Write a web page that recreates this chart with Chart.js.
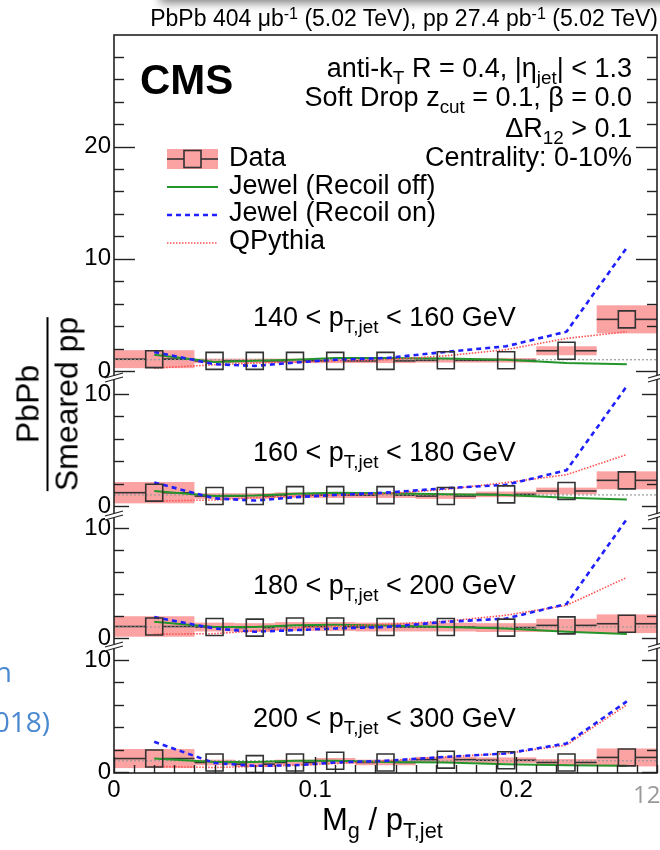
<!DOCTYPE html>
<html>
<head>
<meta charset="utf-8">
<script src="https://cdn.jsdelivr.net/npm/chart.js@4.4.1/dist/chart.umd.min.js"></script>
<style>
html, body { margin: 0; padding: 0; background: #fff; }
#wrap { position: relative; width: 660px; height: 850px; overflow: hidden; font-family: "Liberation Sans", Arial, sans-serif; color: #000; }
#wrap canvas { position: absolute; left: 0; top: 0; }
.t { position: absolute; white-space: nowrap; line-height: 1; }
.sb { position: relative; top: 0.35em; font-size: 0.7em; }
.sp { position: relative; top: -0.45em; font-size: 0.7em; }
.slide { font-family: "Open Sans", sans-serif; }
</style>
</head>
<body>
<div id="wrap">
  <canvas id="c" width="660" height="850"></canvas>
  <div style="position:absolute;left:160px;top:-20px;width:530px;height:20px;box-shadow:0 3px 10px rgba(0,0,0,0.5);background:#ccc"></div>

  <div class="t" style="right:2px;top:7px;font-size:23px">PbPb 404 &mu;b<span class="sp">-1</span> (5.02 TeV), pp 27.4 pb<span class="sp">-1</span> (5.02 TeV)</div>
  <div class="t" style="left:140px;top:59px;font-size:42px;font-weight:bold">CMS</div>

  <div class="t" style="right:28px;top:55px;font-size:27px">anti-k<span class="sb">T</span> R = 0.4, |&eta;<span class="sb">jet</span>| &lt; 1.3</div>
  <div class="t" style="right:28px;top:84px;font-size:27px">Soft Drop z<span class="sb">cut</span> = 0.1, &beta; = 0.0</div>
  <div class="t" style="right:28px;top:115px;font-size:27px">&Delta;R<span class="sb">12</span> &gt; 0.1</div>
  <div class="t" style="right:28px;top:144px;font-size:27px">Centrality: 0-10%</div>

  <div class="t" style="left:229px;top:144px;font-size:27px">Data</div>
  <div class="t" style="left:229px;top:172px;font-size:27px">Jewel (Recoil off)</div>
  <div class="t" style="left:229px;top:199px;font-size:27px">Jewel (Recoil on)</div>
  <div class="t" style="left:229px;top:227px;font-size:27px">QPythia</div>

  <div class="t" style="left:322px;top:804px;font-size:31px">M<span class="sb">g</span> / p<span class="sb">T,jet</span></div>

  <div style="position:absolute;left:47px;top:404px;transform:translate(-50%,-50%) rotate(-90deg);font-size:32px;text-align:center;line-height:1;white-space:nowrap">
    <div>PbPb</div>
    <div style="border-top:2px solid #000;margin-top:3px;padding-top:2px">Smeared pp</div>
  </div>

  <div class="t slide" style="right:648px;top:657px;font-size:28px;color:#4a88d0">n</div>
  <div class="t slide" style="right:610px;top:707px;font-size:28px;color:#4a88d0">(2018)</div>
  <div class="t slide" style="left:633px;top:782px;font-size:24px;color:#9a9a9a">12</div>
</div>

<script>
// binning in Mg/pT,jet
const binEdges = [0, 0.04, 0.06, 0.08, 0.10, 0.12, 0.15, 0.18, 0.21, 0.24, 0.27];
const binCenters = [0.02, 0.05, 0.07, 0.09, 0.11, 0.135, 0.165, 0.195, 0.225, 0.255];
const ptEdges = [140, 160, 180, 200, 300];
const xTicks = [0, 0.1, 0.2];
const yTicks = [[0, 10, 20], [0, 10], [0, 10], [0, 10]];

// one row per pT bin (140-160, 160-180, 180-200, 200-300)
const dataRatio = [
    [1.05, 0.9, 0.9, 0.9, 0.9, 0.9, 0.95, 0.95, 1.8, 4.6],
    [1.2, 0.9, 0.9, 0.98, 0.98, 0.98, 0.9, 1.05, 1.35, 2.3],
    [1.05, 1.0, 0.95, 1.05, 1.05, 1.0, 1.0, 0.95, 1.15, 1.3],
    [1.2, 0.85, 0.7, 0.85, 1.0, 0.85, 1.1, 1.05, 0.85, 1.3]
];
const sysErr = [
    [0.8, 0.2, 0.2, 0.2, 0.2, 0.2, 0.2, 0.2, 0.4, 1.25],
    [0.95, 0.25, 0.25, 0.25, 0.25, 0.25, 0.25, 0.25, 0.3, 0.8],
    [0.93, 0.4, 0.4, 0.4, 0.4, 0.4, 0.4, 0.4, 0.6, 0.85],
    [0.85, 0.25, 0.25, 0.25, 0.25, 0.25, 0.25, 0.25, 0.3, 0.8]
];
const jewelOff = [
    [1.45, 0.8, 0.9, 1.0, 1.15, 1.15, 1.1, 1.0, 0.7, 0.6],
    [1.35, 0.9, 0.95, 1.1, 1.2, 1.15, 1.05, 1.0, 0.75, 0.6],
    [1.47, 1.0, 1.0, 1.17, 1.2, 1.14, 1.0, 0.87, 0.57, 0.36],
    [1.2, 0.9, 0.9, 1.0, 1.0, 0.9, 0.85, 0.7, 0.6, 0.55]
];
const jewelOn = [
    [1.7, 0.6, 0.45, 0.75, 1.0, 1.15, 1.7, 2.2, 3.5, 11.0],
    [2.1, 0.7, 0.5, 0.8, 1.0, 1.2, 1.6, 1.9, 3.2, 10.7],
    [1.9, 0.87, 0.57, 0.72, 0.87, 1.0, 1.47, 1.77, 3.1, 10.8],
    [2.7, 0.8, 0.55, 0.6, 0.85, 1.0, 1.35, 1.65, 2.55, 6.3]
];
const qpythia = [
    [0.25, 0.55, 0.7, 0.8, 0.9, 1.0, 1.35, 1.9, 2.9, 3.5],
    [0.45, 0.55, 0.75, 0.9, 1.0, 1.1, 1.5, 2.1, 2.8, 4.6],
    [0.35, 0.4, 0.65, 0.95, 1.08, 1.23, 1.53, 2.07, 2.97, 5.5],
    [0.5, 0.4, 0.5, 0.6, 0.75, 1.0, 1.35, 1.65, 2.4, 6.0]
];

const FONT = '"Liberation Sans", Arial, sans-serif';
const SYS_COLOR = 'rgba(248,105,105,0.62)';
const panelIds = ['y0', 'y1', 'y2', 'y3'];
const panelRange = [[-0.45, 29.95], [-0.7, 11.6], [-0.63, 11.26], [-0.09, 11.34]];
const panelWeight = [341, 138, 131, 128];

const styles = {
    off: { color: '#23952b', width: 2, dash: [] },
    on: { color: '#2020ff', width: 2.6, dash: [5, 4] },
    qp: { color: '#ff5050', width: 1.6, dash: [1.5, 1.5] }
};

function pts(vals) {
    return binCenters.map((x, i) => ({ x: x, y: vals[i] }));
}

function modelLine(label, vals, axis, st) {
    return {
        label: label, data: pts(vals), yAxisID: axis,
        borderColor: st.color, borderWidth: st.width, borderDash: st.dash,
        pointRadius: 0, tension: 0, fill: false
    };
}

const datasets = [];
// data markers first so they end up on top
panelIds.forEach((id, p) => {
    datasets.push({
        label: 'Data', data: pts(dataRatio[p]), yAxisID: id, showLine: false,
        pointStyle: 'rect', pointRadius: 12, pointBorderWidth: 1.6,
        pointBorderColor: '#333', pointBackgroundColor: 'rgba(0,0,0,0)'
    });
});
panelIds.forEach((id, p) => {
    datasets.push(modelLine('Jewel (Recoil on)', jewelOn[p], id, styles.on));
    datasets.push(modelLine('QPythia', qpythia[p], id, styles.qp));
    datasets.push(modelLine('Jewel (Recoil off)', jewelOff[p], id, styles.off));
    // reference line at ratio = 1
    datasets.push({
        label: 'unity', data: [{ x: binEdges[0], y: 1 }, { x: binEdges[binEdges.length - 1], y: 1 }],
        yAxisID: id, borderColor: '#9a9a9a', borderWidth: 1.2, borderDash: [2, 2], pointRadius: 0
    });
});

const scales = {
    x: {
        type: 'linear', position: 'bottom',
        min: binEdges[0], max: binEdges[binEdges.length - 1],
        afterFit: s => { s.height = 77; s.paddingLeft = 0; s.paddingRight = 0; },
        afterBuildTicks: s => { s.ticks = xTicks.map(v => ({ value: v })); },
        grid: { display: false, drawTicks: false }, border: { display: false },
        ticks: {
            font: { family: FONT, size: 24 }, color: '#000', padding: 3, maxRotation: 0,
            callback: v => (v === 0 ? '0' : v.toFixed(1))
        }
    }
};
panelIds.forEach((id, p) => {
    scales[id] = {
        type: 'linear', position: 'left', stack: 'panels',
        stackWeight: panelWeight[p], weight: 4 - p,
        min: panelRange[p][0], max: panelRange[p][1],
        afterFit: s => { s.width = 114; s.paddingTop = 0; s.paddingBottom = 0; },
        afterBuildTicks: s => { s.ticks = yTicks[p].map(v => ({ value: v })); },
        grid: { display: false, drawTicks: false }, border: { display: false },
        ticks: { font: { family: FONT, size: 24 }, color: '#000', padding: 3, autoSkip: false }
    };
});

function seg(ctx, x0, y0, x1, y1) {
    ctx.beginPath();
    ctx.moveTo(x0, y0);
    ctx.lineTo(x1, y1);
    ctx.stroke();
}

// ROOT-like decorations: systematic boxes, bin-width bars, frame, inward ticks, axis breaks, legend keys
const rootStyle = {
    id: 'rootStyle',
    beforeDatasetsDraw(chart) {
        const ctx = chart.ctx, xs = chart.scales.x, a = chart.chartArea;
        ctx.save();
        ctx.beginPath();
        ctx.rect(a.left, a.top, a.right - a.left, a.bottom - a.top);
        ctx.clip();
        panelIds.forEach((id, p) => {
            const ys = chart.scales[id];
            ctx.fillStyle = SYS_COLOR;
            dataRatio[p].forEach((v, i) => {
                const x0 = xs.getPixelForValue(binEdges[i]);
                const x1 = xs.getPixelForValue(binEdges[i + 1]);
                const y0 = ys.getPixelForValue(v + sysErr[p][i]);
                const y1 = ys.getPixelForValue(v - sysErr[p][i]);
                ctx.fillRect(x0, y0, x1 - x0, y1 - y0);
            });
            ctx.strokeStyle = '#333';
            ctx.lineWidth = 1.6;
            dataRatio[p].forEach((v, i) => {
                const yp = ys.getPixelForValue(v);
                const xc = xs.getPixelForValue(binCenters[i]);
                seg(ctx, xs.getPixelForValue(binEdges[i]), yp, xc - 8.5, yp);
                seg(ctx, xc + 8.5, yp, xs.getPixelForValue(binEdges[i + 1]), yp);
            });
        });
        ctx.restore();
    },
    afterDatasetsDraw(chart) {
        const ctx = chart.ctx, xs = chart.scales.x, a = chart.chartArea;
        ctx.save();
        ctx.strokeStyle = '#222';
        ctx.lineWidth = 1.6;
        ctx.strokeRect(a.left, a.top, a.right - a.left, a.bottom - a.top);

        ctx.lineWidth = 1.4;
        // y ticks, mirrored on the right
        panelIds.forEach((id, p) => {
            const ys = chart.scales[id];
            const major = p === 0 ? 21 : 15;
            for (let v = 0; v <= panelRange[p][1]; v += 2) {
                const yp = Math.round(ys.getPixelForValue(v)) + 0.5;
                const len = v % 10 === 0 ? major : 10;
                seg(ctx, a.left, yp, a.left + len, yp);
                seg(ctx, a.right, yp, a.right - len, yp);
            }
        });
        // x ticks on the bottom axis
        for (let k = 0; k <= 27; k++) {
            const xp = Math.round(xs.getPixelForValue(k / 100)) + 0.5;
            const len = k % 10 === 0 ? 16 : 8;
            seg(ctx, xp, a.bottom, xp, a.bottom - len);
        }
        // axis breaks between panels
        panelIds.slice(0, 3).forEach(id => {
            const b = chart.scales[id].bottom;
            [a.left, a.right].forEach(x => {
                ctx.fillStyle = '#fff';
                ctx.beginPath();
                ctx.moveTo(x - 9, b + 2);
                ctx.lineTo(x + 9, b - 3);
                ctx.lineTo(x + 9, b + 1);
                ctx.lineTo(x - 9, b + 6);
                ctx.closePath();
                ctx.fill();
                ctx.lineWidth = 1.2;
                seg(ctx, x - 9, b + 2, x + 9, b - 3);
                seg(ctx, x - 9, b + 6, x + 9, b + 1);
            });
        });

        // legend keys
        const kx0 = 167, kx1 = 218, kc = (kx0 + kx1) / 2;
        ctx.fillStyle = SYS_COLOR;
        ctx.fillRect(kx0, 149, kx1 - kx0, 20);
        ctx.strokeStyle = '#333';
        ctx.lineWidth = 1.6;
        seg(ctx, kx0, 159, kc - 8.5, 159);
        seg(ctx, kc + 8.5, 159, kx1, 159);
        ctx.strokeRect(kc - 8.5, 150.5, 17, 17);
        [[styles.off, 187], [styles.on, 215], [styles.qp, 243]].forEach(([st, y]) => {
            ctx.strokeStyle = st.color;
            ctx.lineWidth = st.width;
            ctx.setLineDash(st.dash);
            seg(ctx, kx0, y, kx1, y);
        });
        ctx.restore();
    }
};

const chart = new Chart(document.getElementById('c').getContext('2d'), {
    type: 'line',
    data: { datasets: datasets },
    options: {
        responsive: false,
        animation: false,
        events: [],
        layout: { autoPadding: false, padding: { top: 35, right: 3, bottom: 0, left: 0 } },
        plugins: { legend: { display: false }, tooltip: { enabled: false } },
        scales: scales
    },
    plugins: [rootStyle]
});

// pT-bin labels, placed inside each panel through its y scale
const wrap = document.getElementById('wrap');
panelIds.forEach((id, p) => {
    const d = document.createElement('div');
    d.className = 't';
    d.style.left = '253px';
    d.style.fontSize = '27px';
    d.style.top = (chart.scales[id].getPixelForValue(3.9) - 23) + 'px';
    d.innerHTML = ptEdges[p] + ' &lt; p<span class="sb">T,jet</span> &lt; ' + ptEdges[p + 1] + ' GeV';
    wrap.appendChild(d);
});
</script>
</body>
</html>
